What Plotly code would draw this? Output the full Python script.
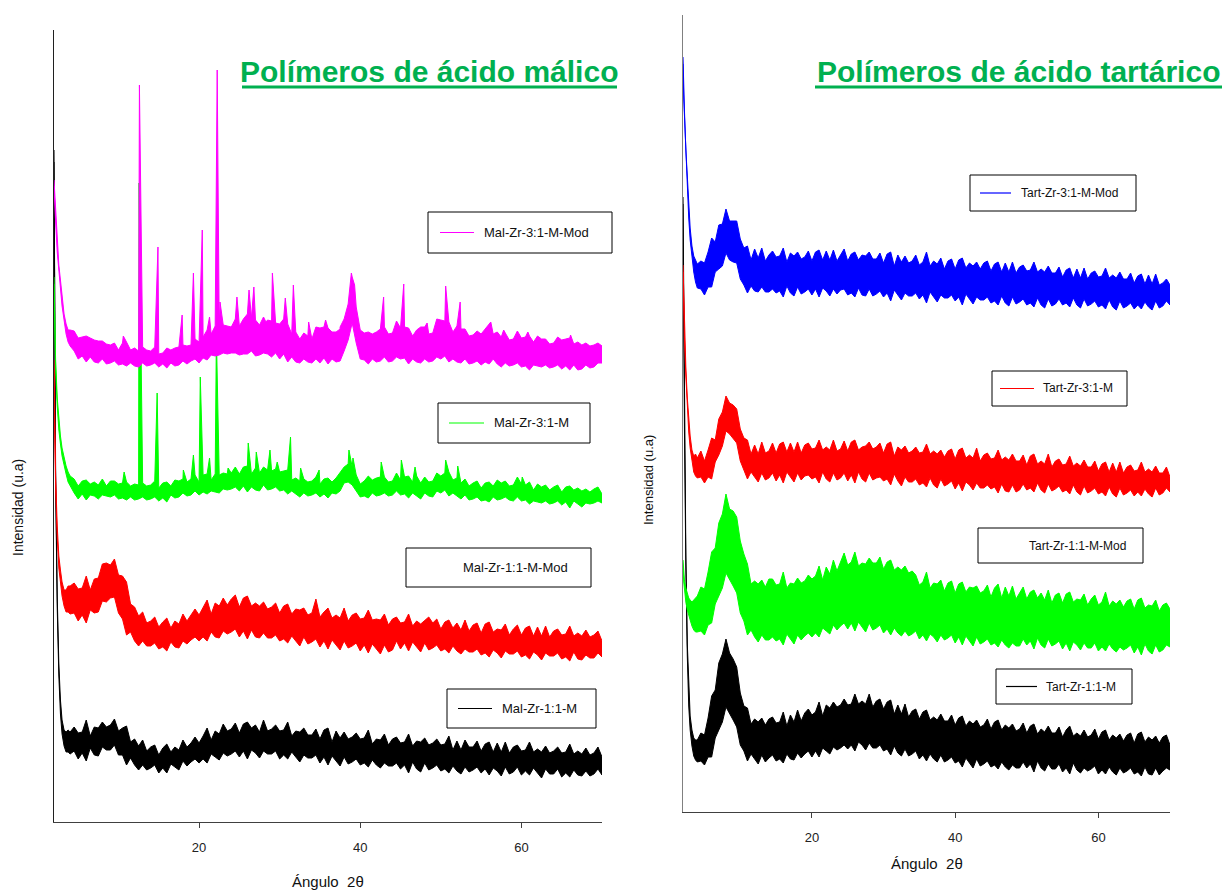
import plotly.graph_objects as go

W, H = 1223, 891

# Diffraction angle 2theta (degrees) sampling grid shared by every pattern
ANGLE = [2.0, 2.1, 2.2, 2.4, 2.6, 2.8, 3.0, 3.25, 3.5, 3.75, 4.0,
         4.5, 5.0, 5.5, 6.0, 6.5, 7.0, 7.5, 8.0, 8.5, 9.0,
         9.5, 10.0, 10.5, 11.0, 11.5, 12.0, 12.5, 13.0, 13.5, 14.0,
         14.5, 15.0, 15.5, 16.0, 16.5, 17.0, 17.5, 18.0, 18.5, 19.0,
         19.5, 20.0, 20.5, 21.0, 21.5, 22.0, 22.5, 23.0, 23.5, 24.0,
         24.5, 25.0, 25.5, 26.0, 26.5, 27.0, 27.5, 28.0, 28.5, 29.0,
         29.5, 30.0, 30.5, 31.0, 31.5, 32.0, 32.5, 33.0, 33.5, 34.0,
         34.5, 35.0, 35.5, 36.0, 36.5, 37.0, 37.5, 38.0, 38.5, 39.0,
         39.5, 40.0, 40.5, 41.0, 41.5, 42.0, 42.5, 43.0, 43.5, 44.0,
         44.5, 45.0, 45.5, 46.0, 46.5, 47.0, 47.5, 48.0, 48.5, 49.0,
         49.5, 50.0, 50.5, 51.0, 51.5, 52.0, 52.5, 53.0, 53.5, 54.0,
         54.5, 55.0, 55.5, 56.0, 56.5, 57.0, 57.5, 58.0, 58.5, 59.0,
         59.5, 60.0, 60.5, 61.0, 61.5, 62.0, 62.5, 63.0, 63.5, 64.0,
         64.5, 65.0, 65.5, 66.0, 66.5, 67.0, 67.5, 68.0, 68.5, 69.0,
         69.5, 70.0]

# Each noisy pattern is stored as the upper and lower edge of its noise band
# (intensity in arbitrary units) on the ANGLE grid.

# ---------------- Malic acid polymers ----------------
MAL_11_M_HI = [672, 492, 352, 226, 158, 122, 102, 92, 90, 92, 90,
               95, 89, 90, 102, 86, 95, 94, 100, 95, 97,
               103, 91, 94, 96, 80, 83, 76, 82, 71, 75,
               77, 67, 74, 78, 70, 75, 72, 82, 75, 79,
               85, 79, 86, 94, 82, 91, 88, 98, 91, 93,
               99, 89, 98, 100, 94, 97, 90, 102, 91, 93,
               97, 91, 92, 100, 86, 91, 90, 94, 87, 87,
               93, 83, 92, 94, 80, 91, 84, 90, 83, 85,
               89, 83, 84, 92, 78, 83, 82, 88, 77, 83,
               85, 79, 80, 88, 76, 81, 80, 84, 77, 79,
               83, 77, 78, 86, 72, 81, 72, 82, 75, 75,
               81, 71, 78, 80, 70, 79, 70, 80, 69, 75,
               77, 71, 72, 80, 70, 73, 70, 76, 69, 71,
               75, 69, 70, 78, 68, 71, 68, 74, 67, 69,
               75, 65]
MAL_11_M_LO = [660, 480, 340, 214, 146, 108, 88, 76, 70, 70, 68,
               71, 63, 69, 61, 74, 67, 66, 75, 72, 72,
               77, 67, 67, 57, 64, 57, 52, 57, 52, 54,
               57, 49, 54, 49, 58, 55, 52, 61, 56, 60,
               63, 59, 63, 59, 68, 65, 62, 69, 66, 68,
               71, 65, 71, 63, 72, 69, 64, 71, 68, 68,
               71, 63, 67, 63, 70, 65, 60, 67, 64, 64,
               67, 59, 65, 57, 66, 61, 56, 65, 58, 60,
               63, 57, 59, 55, 62, 57, 54, 59, 56, 56,
               59, 53, 57, 49, 60, 53, 50, 59, 52, 54,
               57, 51, 53, 49, 56, 51, 48, 55, 50, 52,
               55, 49, 53, 47, 54, 51, 46, 55, 48, 50,
               55, 47, 51, 47, 54, 49, 44, 53, 48, 48,
               53, 45, 49, 45, 52, 47, 46, 51, 46, 48,
               53, 47]

MAL_11_M_MOD_HI = [462, 394, 346, 296, 266, 252, 240, 232, 232, 236, 236,
                   239, 233, 234, 246, 232, 243, 244, 258, 259, 257,
                   263, 247, 246, 240, 218, 215, 206, 210, 199, 201,
                   205, 195, 200, 204, 194, 201, 198, 208, 201, 207,
                   213, 207, 214, 222, 208, 219, 216, 224, 217, 223,
                   227, 215, 224, 226, 216, 219, 216, 220, 213, 215,
                   219, 209, 216, 218, 208, 213, 212, 214, 207, 209,
                   223, 205, 210, 214, 204, 207, 204, 214, 201, 207,
                   209, 203, 204, 212, 202, 203, 202, 208, 197, 203,
                   205, 199, 200, 208, 196, 201, 198, 202, 205, 199,
                   203, 193, 200, 202, 194, 199, 192, 202, 191, 197,
                   199, 189, 198, 200, 190, 193, 192, 198, 187, 193,
                   197, 187, 194, 196, 186, 195, 186, 196, 185, 191,
                   193, 187, 188, 196, 186, 189, 186, 192, 185, 187,
                   191, 181]
MAL_11_M_MOD_LO = [452, 384, 334, 284, 254, 240, 226, 216, 210, 210, 208,
                   209, 201, 207, 199, 212, 209, 210, 221, 220, 224,
                   225, 209, 203, 187, 190, 181, 176, 181, 176, 176,
                   179, 173, 175, 171, 180, 175, 174, 181, 178, 182,
                   185, 181, 185, 181, 190, 185, 184, 191, 188, 190,
                   193, 185, 191, 183, 192, 185, 184, 189, 184, 184,
                   187, 181, 183, 179, 186, 181, 176, 185, 178, 180,
                   183, 175, 181, 173, 182, 177, 172, 181, 174, 176,
                   179, 171, 177, 169, 178, 173, 168, 177, 170, 172,
                   181, 173, 179, 171, 180, 175, 170, 179, 172, 174,
                   177, 171, 173, 169, 176, 171, 168, 173, 170, 170,
                   173, 167, 169, 165, 172, 169, 164, 171, 168, 168,
                   171, 165, 167, 163, 170, 167, 162, 169, 166, 166,
                   169, 163, 165, 161, 170, 163, 162, 167, 164, 164,
                   169, 165]

MAL_31_M_HI = [545, 502, 462, 424, 400, 386, 374, 364, 356, 350, 346,
               343, 336, 341, 342, 338, 340, 337, 343, 336, 341,
               341, 338, 339, 340, 336, 338, 337, 339, 336, 337,
               341, 334, 339, 340, 336, 342, 341, 343, 340, 343,
               347, 340, 347, 348, 342, 348, 347, 349, 348, 349,
               355, 348, 355, 356, 348, 354, 349, 355, 352, 351,
               353, 350, 351, 352, 342, 344, 341, 343, 340, 341,
               345, 338, 343, 344, 340, 344, 349, 355, 358, 355,
               347, 338, 341, 346, 342, 344, 345, 345, 340, 341,
               349, 342, 345, 346, 340, 346, 339, 345, 340, 341,
               349, 346, 349, 350, 342, 344, 339, 343, 336, 339,
               341, 334, 339, 340, 336, 342, 339, 341, 336, 337,
               345, 338, 337, 340, 332, 338, 335, 337, 332, 335,
               337, 330, 335, 336, 332, 334, 331, 333, 330, 333,
               335, 328]
MAL_31_M_LO = [538, 495, 455, 416, 392, 378, 366, 356, 348, 340, 336,
               329, 323, 328, 322, 327, 326, 323, 327, 326, 325,
               327, 323, 324, 322, 325, 322, 323, 325, 322, 323,
               325, 321, 324, 320, 327, 324, 325, 329, 326, 327,
               331, 327, 330, 328, 331, 330, 329, 333, 332, 333,
               335, 331, 336, 330, 335, 332, 331, 337, 332, 333,
               335, 331, 332, 328, 331, 328, 325, 329, 326, 327,
               329, 325, 328, 324, 329, 328, 331, 339, 340, 337,
               331, 325, 326, 324, 329, 326, 327, 329, 326, 327,
               331, 327, 328, 324, 329, 326, 323, 329, 326, 325,
               331, 329, 332, 326, 329, 326, 323, 327, 322, 323,
               325, 321, 322, 320, 325, 322, 323, 325, 322, 321,
               325, 321, 322, 318, 321, 320, 319, 321, 318, 319,
               321, 317, 320, 314, 321, 318, 315, 319, 318, 319,
               321, 319]
MAL_31_M_PEAK_ANGLE = [10.7, 12.55, 14.8, 18.05, 19.3, 20.15, 21.3, 22.15, 23.6, 26.1,
                       27.1, 28.8, 29.7, 31.35, 32.6, 34.9, 38.6, 39.1, 42.6, 45.1,
                       46.8, 50.6, 52.1, 60.1]
MAL_31_M_PEAK_INT = [350, 639, 429, 352, 367, 445, 364, 487, 354, 379,
                     370, 372, 360, 385, 354, 352, 372, 364, 360, 362,
                     355, 362, 356, 345]

MAL_31_M_MOD_HI = [642, 627, 607, 577, 557, 542, 524, 508, 498, 492, 492,
                   491, 484, 485, 486, 484, 482, 481, 481, 478, 477,
                   479, 472, 479, 480, 472, 474, 471, 475, 472, 471,
                   475, 468, 469, 474, 472, 474, 475, 477, 476, 477,
                   483, 480, 485, 492, 488, 496, 495, 497, 496, 495,
                   503, 496, 503, 508, 504, 502, 497, 505, 502, 501,
                   499, 498, 503, 498, 488, 490, 483, 489, 486, 483,
                   495, 494, 495, 494, 490, 490, 493, 503, 518, 545,
                   515, 492, 489, 490, 488, 490, 493, 495, 488, 489,
                   501, 494, 495, 494, 486, 492, 495, 495, 488, 489,
                   503, 502, 501, 500, 490, 496, 493, 493, 486, 487,
                   491, 488, 493, 498, 488, 490, 485, 489, 482, 483,
                   491, 484, 485, 486, 480, 486, 483, 483, 478, 479,
                   485, 482, 483, 484, 478, 480, 477, 479, 476, 477,
                   479, 476]
MAL_31_M_MOD_LO = [636, 620, 600, 570, 550, 534, 516, 500, 488, 480, 476,
                   471, 463, 466, 460, 465, 460, 459, 463, 458, 459,
                   461, 457, 458, 456, 459, 456, 455, 459, 456, 457,
                   459, 455, 458, 454, 459, 456, 457, 461, 458, 461,
                   463, 459, 464, 462, 467, 466, 467, 469, 468, 469,
                   469, 467, 468, 468, 471, 466, 467, 469, 468, 465,
                   469, 463, 468, 460, 465, 460, 459, 463, 460, 459,
                   463, 459, 464, 458, 463, 460, 461, 471, 482, 499,
                   479, 463, 462, 458, 463, 460, 461, 465, 460, 461,
                   465, 463, 464, 458, 463, 460, 459, 463, 460, 461,
                   465, 463, 466, 460, 463, 460, 459, 463, 458, 459,
                   461, 457, 460, 458, 463, 458, 455, 459, 456, 457,
                   459, 455, 456, 452, 457, 456, 455, 457, 454, 455,
                   457, 453, 456, 452, 457, 452, 453, 457, 454, 455,
                   459, 459]
MAL_31_M_MOD_PEAK_ANGLE = [10.6, 12.6, 14.9, 17.9, 19.3, 20.4, 21.3, 22.25, 22.6, 24.7,
                           26.2, 26.8, 28.3, 29.1, 30.7, 31.7, 33.6, 35.7, 37.5, 38.9,
                           39.3, 42.9, 45.4, 48.3, 50.6, 52.4, 56.2, 57.8, 60.8, 66.1]
MAL_31_M_MOD_PEAK_INT = [486, 737, 575, 507, 549, 592, 505, 752, 520, 525,
                         532, 535, 500, 549, 524, 537, 500, 502, 495, 549,
                         537, 525, 538, 499, 536, 520, 500, 492, 490, 487]

# ---------------- Tartaric acid polymers ----------------
TART_11_M_HI = [615, 512, 392, 256, 168, 120, 96, 82, 74, 72, 72,
                79, 77, 94, 116, 122, 149, 158, 173, 159, 153,
                145, 119, 106, 104, 88, 93, 90, 94, 87, 93,
                95, 89, 90, 100, 86, 97, 90, 102, 91, 99,
                103, 97, 100, 110, 96, 107, 104, 110, 105, 107,
                113, 107, 108, 118, 108, 111, 108, 118, 105, 111,
                113, 103, 110, 112, 98, 107, 98, 108, 95, 101,
                103, 93, 100, 102, 92, 95, 92, 98, 91, 91,
                97, 87, 94, 96, 86, 91, 88, 92, 85, 87,
                93, 83, 90, 92, 82, 87, 84, 88, 81, 83,
                89, 79, 86, 88, 78, 83, 80, 86, 79, 79,
                85, 75, 82, 86, 76, 79, 76, 82, 75, 77,
                83, 73, 80, 82, 72, 77, 74, 78, 71, 77,
                79, 69, 78, 80, 70, 75, 72, 76, 69, 75,
                77, 67]
TART_11_M_LO = [608, 504, 384, 246, 156, 106, 82, 66, 56, 52, 50,
                51, 47, 55, 55, 74, 81, 90, 105, 98, 92,
                85, 67, 61, 51, 58, 53, 48, 57, 50, 54,
                57, 51, 53, 49, 58, 53, 52, 59, 54, 58,
                61, 55, 61, 55, 64, 61, 58, 65, 62, 64,
                67, 63, 67, 61, 70, 67, 62, 69, 64, 64,
                67, 61, 63, 57, 66, 59, 56, 63, 56, 58,
                61, 53, 57, 51, 58, 53, 50, 57, 50, 52,
                55, 49, 51, 45, 54, 49, 44, 53, 46, 48,
                51, 45, 47, 43, 50, 45, 42, 47, 44, 44,
                50, 44, 48, 40, 51, 44, 41, 48, 43, 43,
                48, 40, 44, 38, 49, 42, 39, 44, 41, 43,
                46, 38, 42, 38, 45, 40, 37, 44, 39, 41,
                44, 38, 40, 36, 45, 38, 37, 44, 37, 41,
                44, 42]

TART_11_M_MOD_HI = [252, 240, 232, 224, 218, 214, 212, 210, 212, 214, 216,
                    225, 223, 240, 260, 264, 289, 298, 318, 303, 301,
                    295, 271, 258, 248, 228, 231, 228, 232, 225, 233,
                    233, 227, 228, 240, 224, 229, 228, 234, 229, 231,
                    237, 233, 236, 246, 232, 245, 238, 252, 241, 251,
                    259, 247, 250, 260, 246, 249, 248, 254, 249, 249,
                    255, 243, 250, 252, 242, 245, 242, 246, 239, 241,
                    237, 227, 230, 240, 224, 229, 228, 232, 221, 229,
                    231, 219, 228, 230, 220, 225, 224, 226, 219, 221,
                    227, 215, 224, 228, 214, 225, 216, 226, 213, 219,
                    225, 213, 220, 222, 214, 219, 212, 222, 209, 217,
                    219, 209, 218, 220, 210, 213, 212, 218, 207, 213,
                    217, 207, 210, 220, 206, 211, 208, 212, 205, 211,
                    213, 203, 212, 214, 204, 207, 206, 212, 201, 207,
                    209, 203]
TART_11_M_MOD_LO = [244, 230, 220, 210, 202, 196, 192, 186, 182, 180, 180,
                    181, 177, 187, 189, 208, 215, 224, 239, 232, 226,
                    219, 199, 191, 177, 182, 175, 170, 177, 172, 172,
                    175, 171, 173, 167, 178, 173, 168, 177, 172, 176,
                    179, 175, 179, 175, 184, 181, 178, 187, 182, 186,
                    189, 183, 189, 181, 190, 185, 180, 189, 182, 184,
                    187, 179, 183, 177, 184, 179, 176, 181, 176, 178,
                    181, 173, 177, 171, 178, 175, 170, 177, 172, 174,
                    177, 169, 175, 167, 176, 171, 166, 175, 168, 170,
                    173, 167, 169, 165, 172, 167, 164, 169, 166, 166,
                    173, 167, 171, 163, 174, 167, 164, 173, 166, 168,
                    171, 163, 169, 161, 170, 167, 162, 169, 164, 164,
                    169, 161, 165, 161, 168, 163, 160, 165, 162, 164,
                    167, 159, 165, 157, 168, 161, 158, 167, 160, 162,
                    167, 165]

TART_31_M_HI = [547, 512, 482, 444, 414, 390, 376, 362, 356, 358, 354,
                361, 351, 362, 374, 372, 393, 400, 416, 409, 407,
                403, 383, 374, 372, 358, 367, 358, 370, 359, 361,
                369, 359, 368, 370, 360, 369, 360, 370, 359, 367,
                369, 363, 364, 372, 362, 365, 362, 372, 361, 363,
                371, 361, 370, 372, 362, 365, 366, 370, 363, 365,
                369, 359, 368, 370, 356, 365, 362, 366, 359, 361,
                365, 359, 360, 368, 358, 361, 358, 362, 355, 361,
                363, 353, 362, 364, 354, 357, 354, 364, 351, 357,
                359, 353, 354, 362, 352, 355, 352, 358, 351, 351,
                357, 347, 356, 358, 348, 351, 348, 358, 345, 351,
                353, 347, 348, 356, 346, 349, 346, 352, 345, 345,
                351, 341, 348, 350, 340, 349, 340, 350, 339, 345,
                347, 341, 342, 350, 340, 343, 340, 346, 339, 339,
                345, 335]
TART_31_M_LO = [540, 504, 474, 436, 406, 380, 364, 350, 340, 336, 334,
                335, 329, 335, 333, 350, 357, 366, 381, 378, 374,
                369, 351, 343, 333, 340, 335, 330, 339, 332, 334,
                339, 331, 337, 329, 340, 335, 330, 339, 332, 336,
                337, 333, 335, 329, 340, 333, 330, 339, 332, 334,
                339, 331, 337, 329, 340, 333, 330, 339, 332, 334,
                335, 331, 333, 327, 338, 331, 326, 335, 330, 330,
                333, 327, 329, 325, 334, 327, 324, 333, 326, 328,
                331, 323, 329, 321, 330, 327, 322, 329, 324, 324,
                327, 323, 325, 319, 328, 321, 320, 327, 320, 322,
                328, 322, 324, 320, 329, 322, 319, 328, 321, 323,
                326, 320, 322, 318, 327, 320, 317, 326, 319, 321,
                324, 318, 320, 316, 325, 318, 315, 324, 317, 319,
                322, 316, 320, 316, 323, 318, 315, 324, 317, 319,
                324, 320]

TART_31_M_MOD_HI = [755, 722, 702, 662, 637, 604, 584, 566, 556, 552, 548,
                    551, 549, 560, 574, 570, 587, 588, 603, 591, 591,
                    591, 573, 564, 566, 552, 563, 554, 564, 551, 557,
                    561, 555, 556, 564, 550, 559, 556, 560, 553, 555,
                    561, 551, 560, 562, 552, 561, 552, 562, 551, 557,
                    563, 551, 558, 560, 552, 557, 556, 560, 553, 553,
                    559, 549, 558, 560, 546, 557, 550, 556, 549, 551,
                    557, 547, 550, 560, 546, 551, 548, 554, 543, 551,
                    553, 543, 552, 554, 544, 549, 546, 550, 543, 549,
                    551, 541, 548, 550, 540, 549, 540, 550, 539, 545,
                    547, 541, 542, 550, 540, 543, 540, 546, 539, 539,
                    545, 535, 542, 544, 534, 543, 534, 544, 533, 539,
                    541, 535, 536, 544, 534, 537, 534, 540, 533, 533,
                    539, 529, 536, 538, 528, 537, 528, 538, 527, 529,
                    533, 527]
TART_31_M_MOD_LO = [748, 714, 694, 654, 628, 594, 572, 554, 540, 530, 524,
                    523, 517, 525, 525, 540, 543, 546, 559, 552, 550,
                    549, 533, 527, 519, 526, 521, 520, 525, 520, 520,
                    523, 519, 521, 515, 526, 519, 516, 525, 518, 520,
                    523, 517, 523, 515, 524, 521, 516, 523, 518, 522,
                    523, 517, 519, 515, 524, 517, 516, 523, 516, 518,
                    521, 515, 519, 511, 522, 517, 512, 519, 516, 516,
                    519, 513, 517, 509, 520, 515, 510, 517, 514, 514,
                    517, 511, 515, 507, 518, 513, 508, 515, 512, 512,
                    515, 509, 511, 507, 516, 509, 506, 515, 508, 510,
                    513, 507, 509, 505, 514, 507, 504, 513, 506, 508,
                    513, 507, 509, 505, 514, 507, 504, 513, 506, 508,
                    511, 505, 507, 503, 512, 505, 502, 511, 504, 506,
                    509, 503, 507, 503, 510, 505, 502, 511, 504, 506,
                    511, 507]

X_TICKS = [20, 40, 60]
FONT = "Liberation Sans, Arial, sans-serif"
GREEN_TITLE = "#00B050"


def band(angle, hi, lo, peak_angle=(), peak_int=()):
    """Closed outline of a noise band: upper edge (with any sharp peaks) then lower edge back."""
    pts = sorted(zip(list(angle) + list(peak_angle), list(hi) + list(peak_int)))
    xs = [p[0] for p in pts] + list(angle)[::-1]
    ys = [p[1] for p in pts] + list(lo)[::-1]
    return xs, ys


def px(x):
    return x / W


def py(y):
    return 1 - y / H


fig = go.Figure()

left = [
    ("Mal-Zr-1:1-M", "#000000", MAL_11_M_HI, MAL_11_M_LO, (), ()),
    ("Mal-Zr-1:1-M-Mod", "#FF0000", MAL_11_M_MOD_HI, MAL_11_M_MOD_LO, (), ()),
    ("Mal-Zr-3:1-M", "#00FF00", MAL_31_M_HI, MAL_31_M_LO, MAL_31_M_PEAK_ANGLE, MAL_31_M_PEAK_INT),
    ("Mal-Zr-3:1-M-Mod", "#FF00FF", MAL_31_M_MOD_HI, MAL_31_M_MOD_LO,
     MAL_31_M_MOD_PEAK_ANGLE, MAL_31_M_MOD_PEAK_INT),
]
right = [
    ("Tart-Zr-1:1-M", "#000000", TART_11_M_HI, TART_11_M_LO),
    ("Tart-Zr-1:1-M-Mod", "#00FF00", TART_11_M_MOD_HI, TART_11_M_MOD_LO),
    ("Tart-Zr-3:1-M", "#FF0000", TART_31_M_HI, TART_31_M_LO),
    ("Tart-Zr-3:1-M-Mod", "#0000FF", TART_31_M_MOD_HI, TART_31_M_MOD_LO),
]

for name, color, hi, lo, pa, pi in left:
    xs, ys = band(ANGLE, hi, lo, pa, pi)
    fig.add_trace(go.Scatter(x=xs, y=ys, mode="lines", name=name, fill="toself",
                             fillcolor=color, line=dict(color=color, width=1),
                             xaxis="x", yaxis="y", showlegend=False))
for name, color, hi, lo in right:
    xs, ys = band(ANGLE, hi, lo)
    fig.add_trace(go.Scatter(x=xs, y=ys, mode="lines", name=name, fill="toself",
                             fillcolor=color, line=dict(color=color, width=1),
                             xaxis="x2", yaxis="y2", showlegend=False))

axis_common = dict(showgrid=False, zeroline=False, showline=True, mirror=False)
xaxis_common = dict(axis_common, range=[2, 70], tickmode="array", tickvals=X_TICKS,
                    ticks="outside", ticklen=5, tickwidth=1, tickcolor="#404040",
                    linecolor="#404040", linewidth=1,
                    tickfont=dict(family=FONT, size=13, color="#222222"),
                    ticklabelstandoff=8)

fig.update_layout(
    width=W, height=H, autosize=False,
    margin=dict(l=0, r=0, t=0, b=0),
    paper_bgcolor="white", plot_bgcolor="white",
    xaxis=dict(xaxis_common, domain=[px(54), px(602)], anchor="y"),
    yaxis=dict(axis_common, domain=[py(822), py(30)], anchor="x", range=[0, 792],
               showticklabels=False, ticks="", linecolor="#202020", linewidth=1),
    xaxis2=dict(xaxis_common, domain=[px(683), px(1170)], anchor="y2"),
    yaxis2=dict(axis_common, domain=[py(812), py(15)], anchor="x2", range=[0, 797],
                showticklabels=False, ticks="", linecolor="#808080", linewidth=1),
)

shapes = []
annotations = []

# Panel titles with thick underline
for text, cx, x0, x1 in [("Polímeros de ácido málico", 429, 242, 617),
                         ("Polímeros de ácido tartárico", 1018, 815, 1222)]:
    annotations.append(dict(text=f"<b>{text}</b>", x=px(cx), y=py(72), xref="paper", yref="paper",
                            xanchor="center", yanchor="middle", showarrow=False,
                            font=dict(family=FONT, size=30, color=GREEN_TITLE)))
    shapes.append(dict(type="line", xref="paper", yref="paper",
                       x0=px(x0), x1=px(x1), y0=py(87), y1=py(87),
                       line=dict(color=GREEN_TITLE, width=3)))

# Axis titles
for cx, cy in [(328, 881), (927, 863)]:
    annotations.append(dict(text="Ángulo  2θ", x=px(cx), y=py(cy), xref="paper", yref="paper",
                            xanchor="center", yanchor="middle", showarrow=False,
                            font=dict(family=FONT, size=15, color="#111111")))
for cx, cy, fs in [(18, 508, 14), (648, 480, 13)]:
    annotations.append(dict(text="Intensidad (u.a)", x=px(cx), y=py(cy), xref="paper", yref="paper",
                            xanchor="center", yanchor="middle", showarrow=False, textangle=-90,
                            font=dict(family=FONT, size=fs, color="#111111")))

# Boxed series labels: (label, colour or None, box x0, x1, y0, y1, line x0, x1, text x, font size)
labels = [
    ("Mal-Zr-3:1-M-Mod", "#FF00FF", 428, 612, 212, 253, 440, 474, 482, 13),
    ("Mal-Zr-3:1-M", "#00FF00", 438, 590, 403, 443, 449, 484, 492, 13),
    ("Mal-Zr-1:1-M-Mod", None, 406, 591, 548, 587, 0, 0, 461, 13),
    ("Mal-Zr-1:1-M", "#000000", 447, 596, 689, 728, 458, 492, 500, 13),
    ("Tart-Zr-3:1-M-Mod", "#0000FF", 970, 1136, 175, 211, 980, 1011, 1019, 12),
    ("Tart-Zr-3:1-M", "#FF0000", 992, 1127, 371, 406, 1000, 1034, 1041, 12),
    ("Tart-Zr-1:1-M-Mod", None, 978, 1143, 528, 563, 0, 0, 1027, 12),
    ("Tart-Zr-1:1-M", "#000000", 996, 1132, 669, 704, 1006, 1037, 1044, 12),
]
for text, color, bx0, bx1, by0, by1, lx0, lx1, tx, fs in labels:
    cy = (by0 + by1) / 2
    shapes.append(dict(type="rect", xref="paper", yref="paper",
                       x0=px(bx0), x1=px(bx1), y0=py(by1), y1=py(by0),
                       line=dict(color="#000000", width=1), fillcolor="rgba(255,255,255,0)"))
    if color:
        shapes.append(dict(type="line", xref="paper", yref="paper",
                           x0=px(lx0), x1=px(lx1), y0=py(cy), y1=py(cy),
                           line=dict(color=color, width=1.2)))
    annotations.append(dict(text=text, x=px(tx), y=py(cy), xref="paper", yref="paper",
                            xanchor="left", yanchor="middle", showarrow=False,
                            font=dict(family=FONT, size=fs, color="#111111")))

fig.update_layout(shapes=shapes, annotations=annotations)
fig.write_html("out.html")
